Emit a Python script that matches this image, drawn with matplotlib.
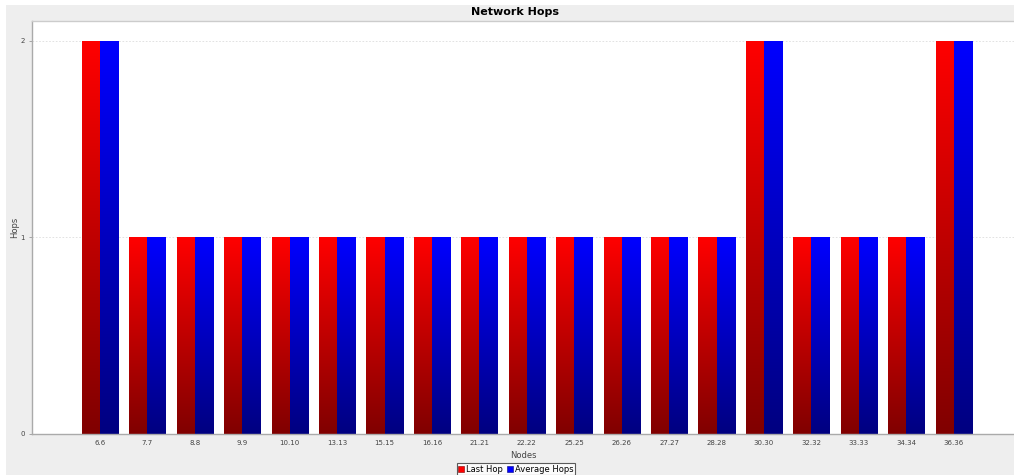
import numpy as np
import matplotlib
matplotlib.use("Agg")
import matplotlib.pyplot as plt
from matplotlib.patches import Rectangle
from matplotlib.colors import LinearSegmentedColormap
from matplotlib.lines import Line2D

nodes = ["6.6", "7.7", "8.8", "9.9", "10.10", "13.13", "15.15", "16.16", "21.21",
         "22.22", "25.25", "26.26", "27.27", "28.28", "30.30", "32.32", "33.33",
         "34.34", "36.36"]
last_hop = [2, 1, 1, 1, 1, 1, 1, 1, 1, 1, 1, 1, 1, 1, 2, 1, 1, 1, 2]
average_hops = [2, 1, 1, 1, 1, 1, 1, 1, 1, 1, 1, 1, 1, 1, 2, 1, 1, 1, 2]

W, H = 1014, 475
fig = plt.figure(figsize=(W / 100, H / 100), dpi=100)
fig.patch.set_facecolor("#eeeeee")
# thin white border strip along top and left
fig.add_artist(Rectangle((0, 1 - 5 / H), 1, 5 / H, transform=fig.transFigure,
                         facecolor="white", edgecolor="none", zorder=-1))
fig.add_artist(Rectangle((0, 0), 6 / W, 1, transform=fig.transFigure,
                         facecolor="white", edgecolor="none", zorder=-1))

left, right, top, bottom = 32, 1014, 21, 434
ax = fig.add_axes([left / W, (H - bottom) / H, (right - left) / W, (bottom - top) / H])
ax.set_facecolor("white")

x = np.arange(len(nodes))
bw = 0.384

red_cmap = LinearSegmentedColormap.from_list("red_grad", ["#800000", "#ff0000"])
blue_cmap = LinearSegmentedColormap.from_list("blue_grad", ["#000080", "#0000ff"])
grad = np.linspace(0, 1, 256).reshape(-1, 1)

def gradient_bars(xs, vals, cmap, label):
    bars = ax.bar(xs, vals, width=bw, align="edge", color="none", edgecolor="none",
                  label=label, zorder=3)
    for b in bars:
        bx, by = b.get_x(), b.get_y()
        bwid, bh = b.get_width(), b.get_height()
        im = ax.imshow(grad, cmap=cmap, origin="lower", aspect="auto",
                       extent=(bx, bx + bwid, by, by + bh), zorder=2,
                       interpolation="bilinear")
        im.set_clip_path(b)
    return bars

gradient_bars(x - bw, last_hop, red_cmap, "Last Hop")
gradient_bars(x, average_hops, blue_cmap, "Average Hops")
ax.set_xlim(-1.434, 19.27)
ax.set_ylim(0, 2.1)

ax.set_xticks(x)
ax.set_xticklabels(nodes, fontsize=5, color="#444444")
ax.set_yticks([0, 1, 2])
ax.set_yticklabels(["0", "1", "2"], fontsize=5, color="#444444")
ax.tick_params(axis="x", length=0, pad=4)
ax.tick_params(axis="y", length=2, width=0.6, color="#999999", pad=3)
ax.yaxis.grid(True, linestyle=(0, (2, 2)), color="#dddddd", linewidth=0.6, zorder=0)
ax.set_axisbelow(True)

ax.spines["top"].set_color("#cccccc")
ax.spines["top"].set_linewidth(1)
ax.spines["right"].set_visible(False)
ax.spines["left"].set_color("#aaaaaa")
ax.spines["bottom"].set_color("#aaaaaa")
ax.spines["left"].set_linewidth(1)
ax.spines["bottom"].set_linewidth(1)

ax.set_xlabel("Nodes", fontsize=6, color="#444444", labelpad=4)
ax.set_ylabel("Hops", fontsize=6, color="#444444", labelpad=1)

fig.text(515 / W, 1 - 12 / H, "Network Hops", ha="center", va="center",
         fontsize=8, fontweight="bold", color="black")

handles = [Line2D([], [], marker="s", linestyle="none", markersize=4,
                  markerfacecolor="#ff0000", markeredgecolor="#800000", markeredgewidth=0.4),
           Line2D([], [], marker="s", linestyle="none", markersize=4,
                  markerfacecolor="#0000ff", markeredgecolor="#000080", markeredgewidth=0.4)]
leg = fig.legend(handles, ["Last Hop", "Average Hops"], loc="center",
                 bbox_to_anchor=(516 / W, 1 - 469 / H), ncol=2, fontsize=6,
                 frameon=True, fancybox=False, handlelength=0.6, handletextpad=0.3,
                 columnspacing=0.5, borderpad=0.2, borderaxespad=0)
leg.get_frame().set_edgecolor("#333333")
leg.get_frame().set_linewidth(0.8)
leg.get_frame().set_facecolor("white")

fig.savefig("out.png", dpi=100, facecolor=fig.get_facecolor())
